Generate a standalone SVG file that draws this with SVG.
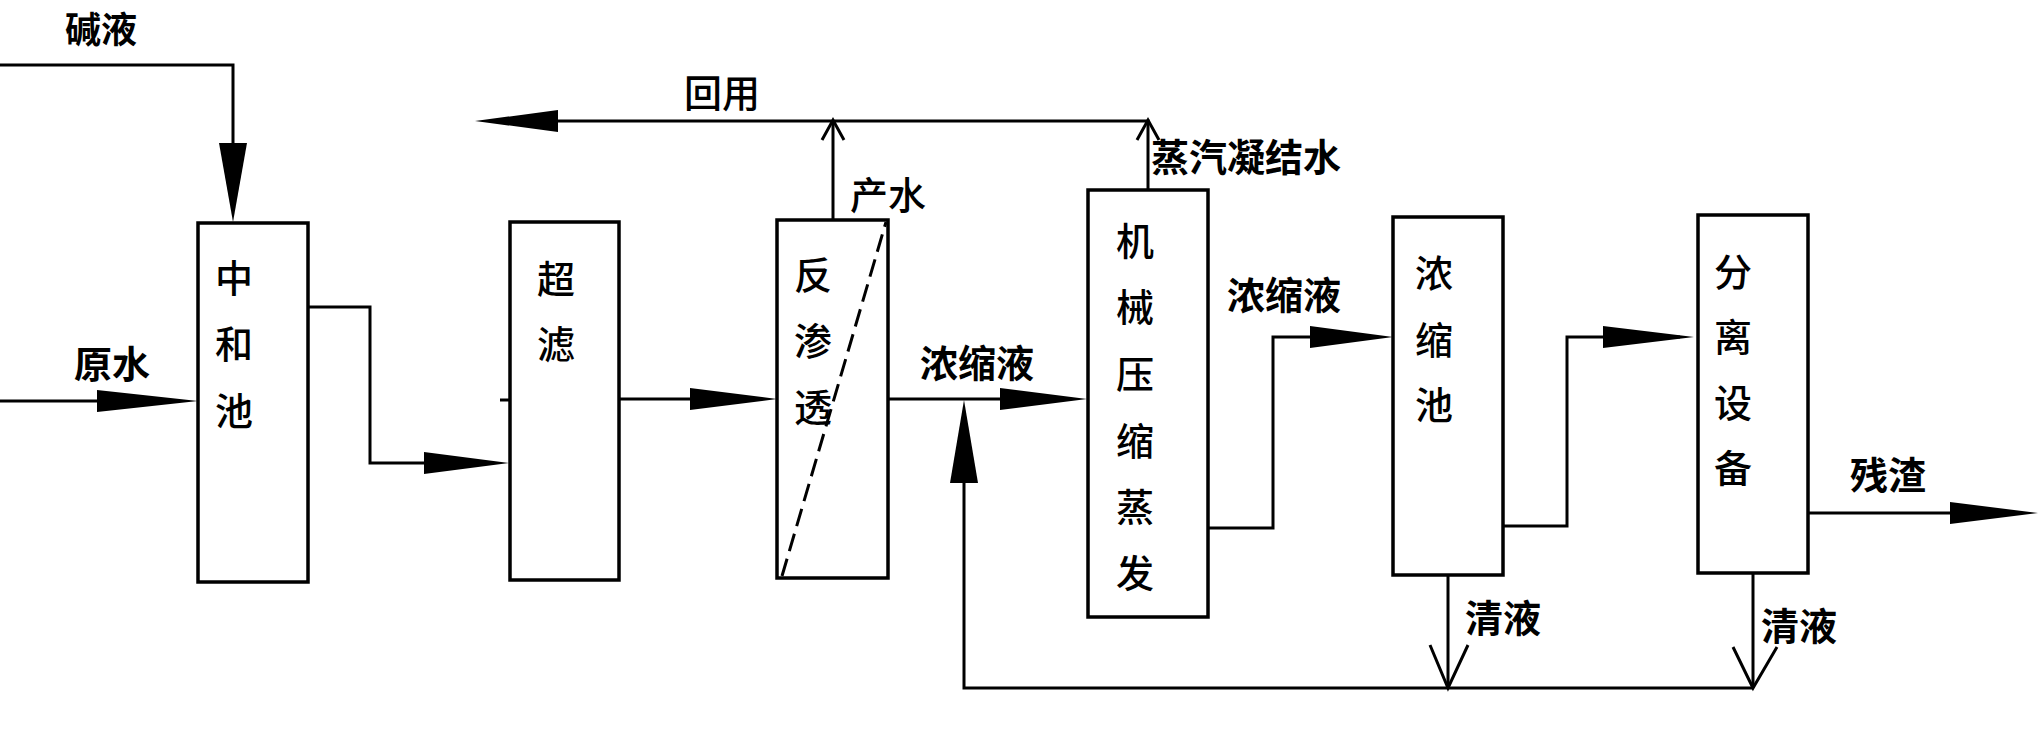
<svg xmlns="http://www.w3.org/2000/svg" width="2040" height="730" viewBox="0 0 2040 730">
<style>
.box{fill:none;stroke:#000;stroke-width:3.5}
.ln{fill:none;stroke:#000;stroke-width:3;stroke-linejoin:miter}
.v{fill:none;stroke:#000;stroke-width:3}
.ah{fill:#000;stroke:none}
.lbl{font-family:"Noto Sans CJK SC","Noto Sans",sans-serif;font-size:38px;font-weight:bold;fill:#000;text-anchor:middle;dominant-baseline:central}
.nl{font-family:"Noto Sans CJK SC","Noto Sans",sans-serif;font-size:38px;font-weight:500;fill:#000;text-anchor:middle;dominant-baseline:central}
.dash{fill:none;stroke:#000;stroke-width:3;stroke-dasharray:18 8}
</style>
<rect width="2040" height="730" fill="#fff"/>
<g id="connectors">
<polyline class="ln" points="0,65 233,65 233,200"/>
<polygon class="ah" points="219,143 247,143 233,222"/>
<line class="ln" x1="0" y1="401" x2="180" y2="401"/>
<polygon class="ah" points="97,390 97,412 198,401"/>
<polyline class="ln" points="308,307 370,307 370,463 490,463"/>
<polygon class="ah" points="424,452 424,474 509,463"/>
<line class="ln" x1="500" y1="400" x2="510" y2="400"/>
<line class="ln" x1="620" y1="399" x2="760" y2="399"/>
<polygon class="ah" points="690,388 690,410 777,399"/>
<line class="ln" x1="888" y1="399" x2="1070" y2="399"/>
<polygon class="ah" points="1000,388 1000,410 1087,399"/>
<polyline class="ln" points="1753,688 964,688 964,470"/>
<polygon class="ah" points="950,483 978,483 964,400"/>
<line class="ln" x1="1448" y1="575" x2="1448" y2="688"/>
<polyline class="v" points="1430,645 1448,688 1468,645"/>
<line class="ln" x1="1753" y1="573" x2="1753" y2="688"/>
<polyline class="v" points="1733,647 1753,688 1777,647"/>
<line class="ln" x1="833" y1="220" x2="833" y2="121"/>
<polyline class="v" points="822,140 833,120 844,140"/>
<line class="ln" x1="1148" y1="190" x2="1148" y2="121"/>
<polyline class="v" points="1137,140 1148,120 1159,140"/>
<line class="ln" x1="540" y1="121" x2="1149.5" y2="121"/>
<polygon class="ah" points="475,121 558,110 558,132"/>
<polyline class="ln" points="1208,528 1273,528 1273,337 1375,337"/>
<polygon class="ah" points="1310,326 1310,348 1393,337"/>
<polyline class="ln" points="1503,526 1567,526 1567,337 1680,337"/>
<polygon class="ah" points="1603,326 1603,348 1694,337"/>
<line class="ln" x1="1808" y1="513" x2="2020" y2="513"/>
<polygon class="ah" points="1950,502 1950,524 2038,513"/>
</g>
<g id="flow-labels">
<text class="lbl" x="101" y="27" style="font-size:36px">碱液</text>
<text class="lbl" x="112" y="361">原水</text>
<text class="nl" x="722" y="90">回用</text>
<text class="nl" x="888" y="192">产水</text>
<text class="lbl" x="1246" y="154">蒸汽凝结水</text>
<text class="lbl" x="977" y="360">浓缩液</text>
<text class="lbl" x="1284" y="292">浓缩液</text>
<text class="lbl" x="1503" y="615">清液</text>
<text class="lbl" x="1799" y="623">清液</text>
<text class="lbl" x="1888" y="472">残渣</text>
</g>
<g id="neutralization-tank">
<rect class="box" x="198" y="223" width="110" height="359"/>
<text class="nl" x="234" y="275">中</text>
<text class="nl" x="234" y="341">和</text>
<text class="nl" x="234" y="408">池</text>
</g>
<g id="ultrafiltration">
<rect class="box" x="510" y="222" width="109" height="358"/>
<text class="nl" x="556" y="276">超</text>
<text class="nl" x="556" y="341">滤</text>
</g>
<g id="reverse-osmosis">
<rect class="box" x="777" y="220" width="111" height="358"/>
<line class="dash" x1="782" y1="576" x2="886" y2="222"/>
<text class="nl" x="813" y="272">反</text>
<text class="nl" x="813" y="338">渗</text>
<text class="nl" x="813" y="404">透</text>
</g>
<g id="mvr-evaporator">
<rect class="box" x="1088" y="190" width="120" height="427"/>
<text class="nl" x="1135" y="238">机</text>
<text class="nl" x="1135" y="304">械</text>
<text class="nl" x="1135" y="371">压</text>
<text class="nl" x="1135" y="438">缩</text>
<text class="nl" x="1135" y="504">蒸</text>
<text class="nl" x="1135" y="570">发</text>
</g>
<g id="concentrate-tank">
<rect class="box" x="1393" y="217" width="110" height="358"/>
<text class="nl" x="1434" y="270">浓</text>
<text class="nl" x="1434" y="337">缩</text>
<text class="nl" x="1434" y="402">池</text>
</g>
<g id="separator">
<rect class="box" x="1698" y="215" width="110" height="358"/>
<text class="nl" x="1733" y="269">分</text>
<text class="nl" x="1733" y="334">离</text>
<text class="nl" x="1733" y="400">设</text>
<text class="nl" x="1733" y="465">备</text>
</g>
</svg>
